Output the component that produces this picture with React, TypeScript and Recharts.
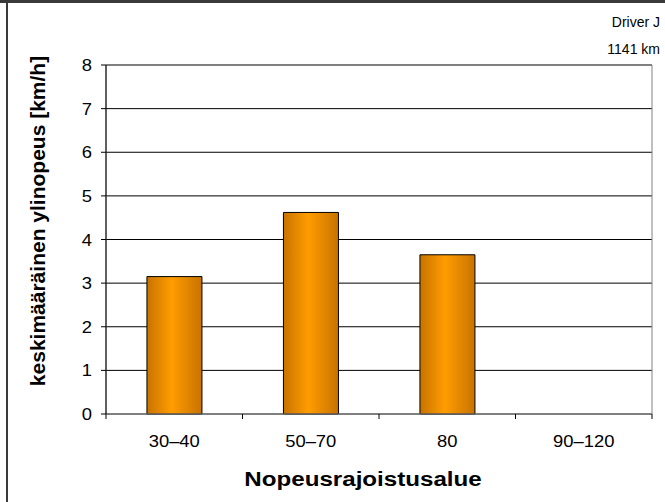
import React from 'react';
import {
  BarChart,
  Bar,
  XAxis,
  YAxis,
  CartesianGrid,
  ReferenceArea,
} from 'recharts';

const categories = ['30–40', '50–70', '80', '90–120'];
const speeding: (number | null)[] = [3.15, 4.62, 3.65, null];
const yTicks = [0, 1, 2, 3, 4, 5, 6, 7, 8];
const driverName = 'Driver J';
const distance = '1141 km';
const xTitle = 'Nopeusrajoistusalue';
const yTitle = 'keskimääräinen ylinopeus [km/h]';

const WIDTH = 665;
const HEIGHT = 502;
const AXIS_W = 106;
const RIGHT = 13;
const TOP = 65;
const BOTTOM = 88;
const BAND = (WIDTH - AXIS_W - RIGHT) / categories.length;

const FONT = '"Liberation Sans", Arial, sans-serif';
// axis text in this chart is set a little wide
const STRETCH = 1.15;

const data = categories.map((zone, i) => ({ zone, value: speeding[i] }));

const WideText = ({ x, y, anchor = 'middle', size, bold = false, stretch = STRETCH, children }: any) => (
  <text
    transform={`translate(${x},${y}) scale(${stretch},1)`}
    x={0}
    y={0}
    textAnchor={anchor}
    fontSize={size}
    fontWeight={bold ? 'bold' : 'normal'}
    fill="#000"
    fontFamily={FONT}
  >
    {children}
  </text>
);

// Excel-style category axis: tick marks sit between categories, not under them
const CategoryTick = (props: any) => {
  const { x, y, payload, index } = props;
  const last = index === categories.length - 1;
  return (
    <g>
      <line x1={x - BAND / 2} x2={x - BAND / 2} y1={y - 5} y2={y} stroke="#000" />
      {last && <line x1={x + BAND / 2} x2={x + BAND / 2} y1={y - 5} y2={y} stroke="#000" />}
      <WideText x={x} y={y + 28} size={16}>
        {payload.value}
      </WideText>
    </g>
  );
};

const ValueTick = (props: any) => {
  const { x, y, payload } = props;
  return (
    <WideText x={x} y={y + 6} anchor="end" size={16}>
      {payload.value}
    </WideText>
  );
};

const App: React.FC = () => {
  return (
    <div
      style={{
        position: 'absolute',
        left: 0,
        top: 0,
        width: WIDTH,
        height: HEIGHT,
        background: '#fff',
      }}
    >
      <div style={{ position: 'absolute', left: 0, top: 0, width: WIDTH, height: 3, background: '#3a3a3a' }} />
      <div style={{ position: 'absolute', left: 6, top: 0, width: 2, height: HEIGHT, background: '#3a3a3a' }} />
      <BarChart
        width={WIDTH}
        height={HEIGHT}
        data={data}
        margin={{ top: TOP, right: RIGHT, left: 0, bottom: 0 }}
        barCategoryGap="30%"
      >
        <defs>
          <linearGradient id="barFill" x1="0" y1="0" x2="1" y2="0">
            <stop offset="0%" stopColor="#c87300" />
            <stop offset="45%" stopColor="#ff9c00" />
            <stop offset="100%" stopColor="#c87300" />
          </linearGradient>
        </defs>
        <CartesianGrid vertical={false} stroke="#000" />
        <ReferenceArea
          x1={categories[0]}
          x2={categories[categories.length - 1]}
          y1={0}
          y2={8}
          fill="none"
          stroke="#808080"
          strokeWidth={1}
        />
        <XAxis
          dataKey="zone"
          height={BOTTOM}
          axisLine={{ stroke: '#808080' }}
          tickLine={false}
          tickSize={5}
          tickMargin={0}
          tick={<CategoryTick />}
          interval={0}
          label={{
            content: () => (
              <WideText x={363} y={486} size={21} bold>
                {xTitle}
              </WideText>
            ),
          }}
        />
        <YAxis
          width={AXIS_W}
          domain={[0, 8]}
          ticks={yTicks}
          interval={0}
          axisLine={{ stroke: '#000' }}
          tickLine={{ stroke: '#000' }}
          tickSize={5}
          tickMargin={9}
          tick={<ValueTick />}
          label={{
            content: () => (
              <text
                x={0}
                y={0}
                transform="translate(45, 221) rotate(-90)"
                textAnchor="middle"
                fontSize={21}
                fontWeight="bold"
                fill="#000"
                fontFamily={FONT}
              >
                {yTitle}
              </text>
            ),
          }}
        />
        <Bar
          dataKey="value"
          fill="url(#barFill)"
          stroke="#000"
          strokeWidth={1}
          isAnimationActive={false}
        />
      </BarChart>
      <svg
        width={WIDTH}
        height={70}
        style={{ position: 'absolute', left: 0, top: 0, pointerEvents: 'none' }}
      >
        <WideText x={660} y={27} anchor="end" size={14} stretch={1}>
          {driverName}
        </WideText>
        <WideText x={660} y={54} anchor="end" size={14} stretch={1}>
          {distance}
        </WideText>
      </svg>
    </div>
  );
};

export default App;
